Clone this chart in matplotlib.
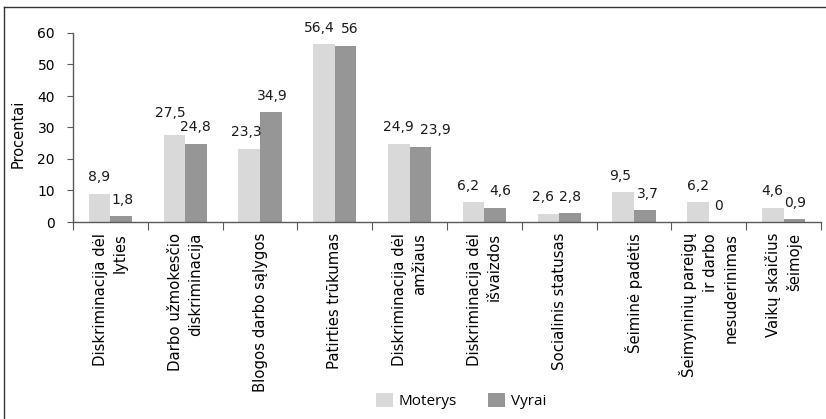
import matplotlib
matplotlib.use("Agg")
import matplotlib.pyplot as plt
from matplotlib.lines import Line2D
import numpy as np

# data
categories = [
    "Diskriminacija dėl\nlyties",
    "Darbo užmokesčio\ndiskriminacija",
    "Blogos darbo sąlygos",
    "Patirties trūkumas",
    "Diskriminacija dėl\namžiaus",
    "Diskriminacija dėl\nišvaizdos",
    "Socialinis statusas",
    "Šeiminė padėtis",
    "Šeimyninių pareigų\nir darbo\nnesuderinimas",
    "Vaikų skaičius\nšeimoje",
]
moterys = [8.9, 27.5, 23.3, 56.4, 24.9, 6.2, 2.6, 9.5, 6.2, 4.6]
vyrai = [1.8, 24.8, 34.9, 56.0, 23.9, 4.6, 2.8, 3.7, 0.0, 0.9]
yticks = [0, 10, 20, 30, 40, 50, 60]

num_font = "DejaVu Sans"
cat_font = "DejaVu Sans"
leg_font = "Open Sans"
axis_col = "#595959"

fig = plt.figure(figsize=(8.26, 4.19), dpi=100)
W, H = 826, 419

# outer frame (only top and left edges visible in the reference)
fig.add_artist(Line2D([4 / W, 4 / W], [0, 1 - 7 / H], transform=fig.transFigure,
                      color="#333333", lw=1))
fig.add_artist(Line2D([4 / W, 1], [1 - 7 / H, 1 - 7 / H], transform=fig.transFigure,
                      color="#333333", lw=1))

left, right = 73 / W, 821 / W
bottom, top = 1 - 222 / H, 1 - 33 / H
ax = fig.add_axes([left, bottom, right - left, top - bottom])

x = np.arange(len(categories))
w = 0.29
ax.bar(x - w / 2, moterys, width=w, color="#d9d9d9", label="Moterys")
ax.bar(x + w / 2, vyrai, width=w, color="#969696", label="Vyrai")

def fmt(v):
    s = ("%.1f" % v).rstrip("0").rstrip(".")
    return s.replace(".", ",")

# label nudges in pixels (dx, dy), the original spreads crowded labels apart
nudge = {
    ("m", 1): (-4, 6), ("v", 1): (-1, 0),
    ("m", 2): (-3, 0), ("v", 2): (1, 0),
    ("m", 3): (-5, 0), ("v", 3): (4, 0),
    ("v", 4): (15, 0),
    ("m", 5): (-6, 0), ("v", 5): (5, 0),
    ("m", 6): (-5, 0),
    ("m", 7): (-3, 0), ("v", 7): (3, 0),
    ("v", 8): (-1, 0),
    ("v", 0): (1, 0), ("v", 9): (1, 0),
}
px = 72 / 100
for i in range(len(categories)):
    for key, xs, vals in (("m", x - w / 2, moterys), ("v", x + w / 2, vyrai)):
        dx, dy = nudge.get((key, i), (0, 0))
        ax.annotate(fmt(vals[i]), (xs[i], vals[i]),
                    xytext=(dx * px, (9.5 + dy) * px), textcoords="offset points",
                    ha="center", va="bottom", fontsize=10, family=num_font,
                    color="#1a1a1a")

ax.set_xlim(-0.5, len(categories) - 0.5)
ax.set_ylim(0, 60)
ax.set_yticks(yticks)
ax.set_yticklabels([str(t) for t in yticks], family=num_font, fontsize=10)
ax.tick_params(axis="y", length=4, color=axis_col, pad=9)

ax.set_xticks(np.arange(len(categories) + 1) - 0.5)
ax.set_xticklabels([])
ax.tick_params(axis="x", which="major", length=6, color=axis_col)
ax.set_xticks(x, minor=True)
ax.set_xticklabels(categories, minor=True, rotation=90, fontsize=10.7,
                   family=cat_font, linespacing=1.45)
ax.tick_params(axis="x", which="minor", length=0, pad=8)
for lab in ax.get_xticklabels(minor=True):
    lab.set_multialignment("right")

for s in ("top", "right"):
    ax.spines[s].set_visible(False)
for s in ("left", "bottom"):
    ax.spines[s].set_color(axis_col)
    ax.spines[s].set_linewidth(1)

ax.set_ylabel("Procentai", family=num_font, fontsize=10.5)
ax.yaxis.set_label_coords((26 - 73) / 748, (222 - 134) / 189)

leg = fig.legend(loc="center", bbox_to_anchor=(461 / W, 1 - 401 / H), ncol=2,
                 frameon=False, prop={"family": leg_font, "size": 11},
                 handlelength=1.1, handleheight=1.1, handletextpad=0.4,
                 columnspacing=2.0)

fig.savefig("out.png", dpi=100)
